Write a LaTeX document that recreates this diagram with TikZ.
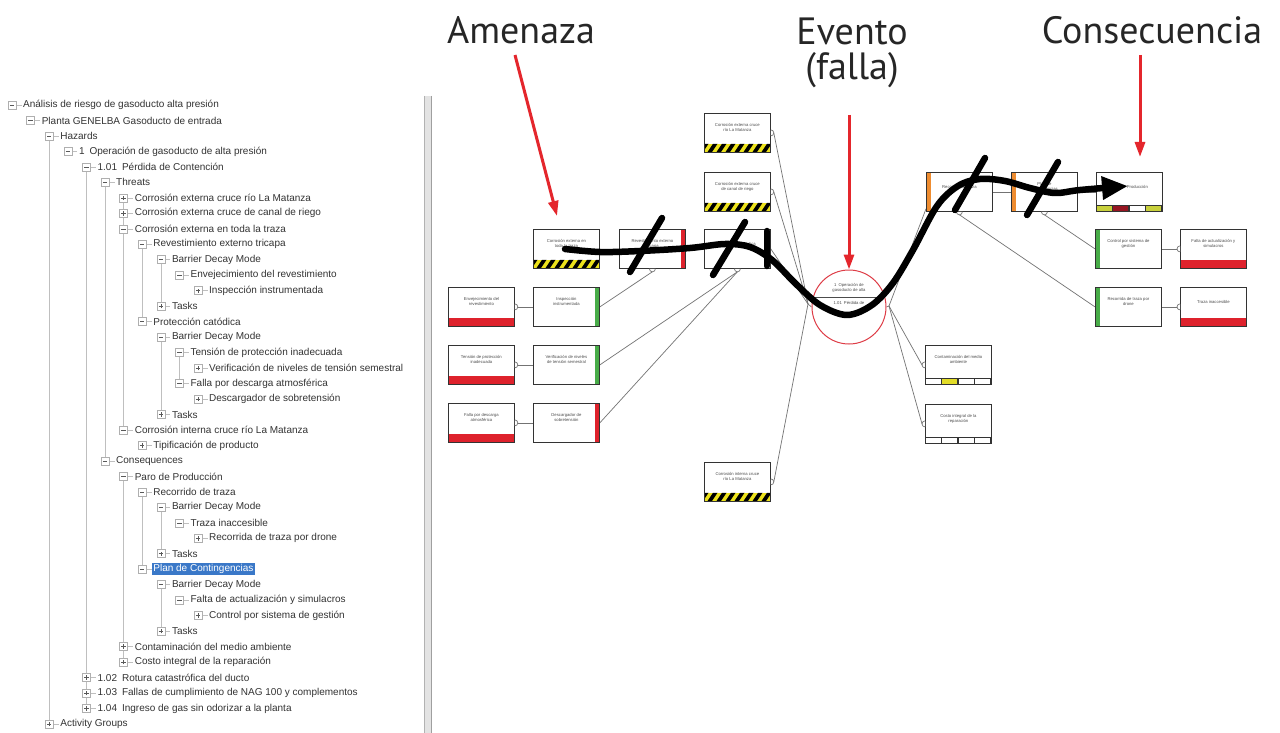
\documentclass[tikz,border=0pt]{standalone}
\usepackage{fontspec}
\setmainfont{Liberation Sans}
\newfontfamily\headfont{PT Sans}
\usetikzlibrary{arrows.meta}
\pgfdeclarelayer{background}
\pgfdeclarelayer{paper}
\pgfsetlayers{paper,background,main}

\definecolor{barred}{RGB}{222,34,44}
\definecolor{bargreen}{RGB}{72,172,72}
\definecolor{barorange}{RGB}{238,140,48}
\definecolor{hzyellow}{RGB}{236,226,28}
\definecolor{cellyg}{RGB}{200,208,60}
\definecolor{celldark}{RGB}{150,22,34}
\definecolor{cellyel}{RGB}{226,220,40}
\definecolor{evred}{RGB}{222,60,70}
\definecolor{arrred}{RGB}{228,38,44}
\definecolor{selblue}{RGB}{58,120,200}
\definecolor{treegray}{RGB}{175,175,175}

\tikzset{
  bx/.style={draw=black!80, line width=0.8pt, fill=white, minimum width=66pt,
    minimum height=39pt, inner sep=0pt, anchor=north west},
  bxline/.style={draw=black!80, line width=0.8pt},
  btxt/.style={font=\fontsize{4.2}{5}\selectfont, text=black!70, align=center, inner sep=0pt},
  conn/.style={draw=black!55, line width=0.7pt},
  inkline/.style={line width=6.5pt, black, line cap=round, line join=round},
  redarrow/.style={draw=arrred, line width=3pt, -{Triangle[length=15pt,width=10pt]}},
  head/.style={font=\headfont\fontsize{38}{35}\selectfont, text=black!85, inner sep=0pt, align=center},
  tbtn/.style={draw=treegray, fill=white, minimum size=8pt, inner sep=0pt, line width=0.6pt},
  tsign/.style={draw=black!65, line width=0.6pt},
  tline/.style={draw=treegray!80, line width=0.6pt},
  ttext/.style={font=\fontsize{10}{12}\selectfont, text=black!80, anchor=west, inner sep=1.5pt},
  sel/.style={fill=selblue, text=white},
}

% one row of the tree: [style]{row}{level}{p|m}{text}
\newcommand\trow[5][]{%
  \pgfmathsetmacro\ty{105+15.475*(#2-1)}%
  \pgfmathsetmacro\tx{12+18.6*#3}%
  \node[tbtn] (b#2) at (\tx,\ty) {};
  \draw[tsign] ([xshift=-2.2pt]b#2.center) -- ([xshift=2.2pt]b#2.center);
  \ifx p#4\draw[tsign] ([yshift=-2.2pt]b#2.center) -- ([yshift=2.2pt]b#2.center);\fi
  \node[ttext,#1] (r#2) at (\tx+9.5,\ty) {#5};
  \begin{pgfonlayer}{background}\draw[tline] (b#2.east) -- (r#2.west);\end{pgfonlayer}
}

% bow-tie box with its caption
\newcommand\bowbox[4]{%
  \node[bx] (#1) at (#2,#3) {};
  \node[btxt] (#1t) at ([yshift=5pt]#1.center) {#4};
}
\newcommand\hazardband[1]{%
  \begin{scope}
    \clip (#1.south west) rectangle ([yshift=9pt]#1.south east);
    \fill[hzyellow] (#1.south west) rectangle ([yshift=9pt]#1.south east);
    \foreach \k in {0,...,8}{
      \fill[black] ([xshift=\k*9pt-6pt]#1.south west) -- ++(4.5pt,0pt) -- ++(6pt,9pt) -- ++(-4.5pt,0pt) -- cycle;}
  \end{scope}
  \draw[bxline] (#1.south west) rectangle (#1.north east);
}
\newcommand\redbase[1]{%
  \fill[barred] (#1.south west) rectangle ([yshift=8.5pt]#1.south east);
  \draw[bxline] (#1.south west) rectangle (#1.north east);
}
\newcommand\rbar[2]{%
  \fill[#2] ([xshift=-5pt]#1.south east) rectangle (#1.north east);
  \draw[bxline] (#1.south west) rectangle (#1.north east);
}
\newcommand\lbar[2]{%
  \fill[#2] (#1.south west) rectangle ([xshift=4.5pt]#1.north west);
  \draw[bxline] (#1.south west) rectangle (#1.north east);
}
\newcommand\cells[5]{%
  \fill[black!80] (#1.south west) rectangle ([yshift=7pt]#1.south east);
  \foreach \c [count=\i from 0] in {#2,#3,#4,#5}{
    \fill[\c] ([xshift=1.2pt+\i*16.2pt, yshift=1pt]#1.south west) rectangle ++(15pt,5pt);}
  \draw[bxline] (#1.south west) rectangle (#1.north east);
}
\newcommand\bumpR[1]{\draw[conn,fill=white] ([yshift=3pt]#1) arc[start angle=90,end angle=-90,radius=3pt];}
\newcommand\bumpL[1]{\draw[conn,fill=white] ([yshift=3pt]#1) arc[start angle=90,end angle=270,radius=3pt];}
\newcommand\bumpB[1]{\draw[conn,fill=white] ([xshift=-3pt]#1) arc[start angle=180,end angle=360,radius=3pt];}

\begin{document}
\begin{tikzpicture}[x=1pt,y=-1pt]
\begin{pgfonlayer}{paper}
  \fill[white] (0,0) rectangle (1280,733);
\end{pgfonlayer}
\useasboundingbox (0,0) rectangle (1280,733);

% ---------- tree panel ----------
\trow{1}{0}{m}{Análisis de riesgo de gasoducto alta presión}
\trow{2}{1}{m}{Planta GENELBA Gasoducto de entrada}
\trow{3}{2}{m}{Hazards}
\trow{4}{3}{m}{1\enspace Operación de gasoducto de alta presión}
\trow{5}{4}{m}{1.01\enspace Pérdida de Contención}
\trow{6}{5}{m}{Threats}
\trow{7}{6}{p}{Corrosión externa cruce río La Matanza}
\trow{8}{6}{p}{Corrosión externa cruce de canal de riego}
\trow{9}{6}{m}{Corrosión externa en toda la traza}
\trow{10}{7}{m}{Revestimiento externo tricapa}
\trow{11}{8}{m}{Barrier Decay Mode}
\trow{12}{9}{m}{Envejecimiento del revestimiento}
\trow{13}{10}{p}{Inspección instrumentada}
\trow{14}{8}{p}{Tasks}
\trow{15}{7}{m}{Protección catódica}
\trow{16}{8}{m}{Barrier Decay Mode}
\trow{17}{9}{m}{Tensión de protección inadecuada}
\trow{18}{10}{p}{Verificación de niveles de tensión semestral}
\trow{19}{9}{m}{Falla por descarga atmosférica}
\trow{20}{10}{p}{Descargador de sobretensión}
\trow{21}{8}{p}{Tasks}
\trow{22}{6}{m}{Corrosión interna cruce río La Matanza}
\trow{23}{7}{p}{Tipificación de producto}
\trow{24}{5}{m}{Consequences}
\trow{25}{6}{m}{Paro de Producción}
\trow{26}{7}{m}{Recorrido de traza}
\trow{27}{8}{m}{Barrier Decay Mode}
\trow{28}{9}{m}{Traza inaccesible}
\trow{29}{10}{p}{Recorrida de traza por drone}
\trow{30}{8}{p}{Tasks}
\trow[sel]{31}{7}{m}{Plan de Contingencias}
\trow{32}{8}{m}{Barrier Decay Mode}
\trow{33}{9}{m}{Falta de actualización y simulacros}
\trow{34}{10}{p}{Control por sistema de gestión}
\trow{35}{8}{p}{Tasks}
\trow{36}{6}{p}{Contaminación del medio ambiente}
\trow{37}{6}{p}{Costo integral de la reparación}
\trow{38}{4}{p}{1.02\enspace Rotura catastrófica del ducto}
\trow{39}{4}{p}{1.03\enspace Fallas de cumplimiento de NAG 100 y complementos}
\trow{40}{4}{p}{1.04\enspace Ingreso de gas sin odorizar a la planta}
\trow{41}{2}{p}{Activity Groups}

\begin{pgfonlayer}{background}
  \foreach \a/\b in {3/41,5/40,6/24,7/22,25/37,10/15,26/31,11/14,16/21,27/30,32/35,17/19}
    \draw[tline] (b\a.center) -- (b\b.center);
\end{pgfonlayer}

% splitter between the panels
\fill[gray!22] (424,96) rectangle (431,733);
\draw[gray!60, line width=0.8pt] (424,96) -- (424,733);
\draw[gray!75, line width=0.8pt] (431,96) -- (431,733);

% ---------- headings ----------
\node[head, anchor=base] (amen) at (521,44) {Amenaza};
\node[head, anchor=north] (even) at (852,18) {Evento\\(falla)};
\node[head, anchor=base] (cons) at (1152,44) {Consecuencia};

% ---------- bow-tie ----------
\bowbox{th1}{704}{113}{Corrosión externa cruce\\río La Matanza}
\bowbox{th2}{704}{172}{Corrosión externa cruce\\de canal de riego}
\bowbox{th3}{533}{229}{Corrosión externa en\\toda la traza}
\bowbox{th4}{704}{462}{Corrosión interna cruce\\río La Matanza}
\bowbox{ba1}{619}{229}{Revestimiento externo\\tricapa}
\bowbox{ba2}{704}{229}{Protección catódica}
\bowbox{ef1}{448}{287}{Envejecimiento del\\revestimiento}
\bowbox{eb1}{533}{287}{Inspección\\instrumentada}
\bowbox{ef2}{448}{345}{Tensión de protección\\inadecuada}
\bowbox{eb2}{533}{345}{Verificación de niveles\\de tensión semestral}
\bowbox{ef3}{448}{403}{Falla por descarga\\atmosférica}
\bowbox{eb3}{533}{403}{Descargador de\\sobretensión}
\bowbox{cb1}{926}{172}{Recorrido de traza}
\bowbox{cb2}{1011}{172}{Plan de\\Contingencias}
\bowbox{cq1}{1096}{172}{Paro de Producción}
\bowbox{rb1}{1095}{229}{Control por sistema de\\gestión}
\bowbox{re1}{1180}{229}{Falta de actualización y\\simulacros}
\bowbox{rb2}{1095}{287}{Recorrida de traza por\\drone}
\bowbox{re2}{1180}{287}{Traza inaccesible}
\bowbox{cq2}{925}{345}{Contaminación del medio\\ambiente}
\bowbox{cq3}{925}{404}{Costo integral de la\\reparación}

\hazardband{th1}\hazardband{th2}\hazardband{th3}\hazardband{th4}
\rbar{ba1}{barred}\rbar{eb1}{bargreen}\rbar{eb2}{bargreen}\rbar{eb3}{barred}
\redbase{ef1}\redbase{ef2}\redbase{ef3}\redbase{re1}\redbase{re2}
\lbar{cb1}{barorange}\lbar{cb2}{barorange}\lbar{rb1}{bargreen}\lbar{rb2}{bargreen}
\cells{cq1}{cellyg}{celldark}{white}{cellyg}
\cells{cq2}{white}{cellyel}{white}{white}
\cells{cq3}{white}{white}{white}{white}

% top event
\node[draw=evred, line width=1pt, circle, minimum size=74pt, inner sep=0pt, fill=white] (ev) at (849,307) {};
\node[btxt] (evt) at (849,288) {1\enspace Operación de\\gasoducto de alta};
\draw[black!70, line width=0.5pt] (814,297) -- (884,297);
\node[btxt] (evs) at (849,303) {1.01\enspace Pérdida de};

\coordinate (lj) at (808,304);
\coordinate (rj) at (889,306);

\begin{pgfonlayer}{background}
  % threat side
  \draw[conn] (th3.east) -- (ba1.west);
  \draw[conn] (ba1.east) -- (ba2.west);
  \draw[conn] (ba2.east) -- (lj);
  \draw[conn] ([xshift=3pt]th1.east) -- (lj);
  \draw[conn] ([xshift=3pt]th2.east) -- (lj);
  \draw[conn] ([xshift=3pt]th4.east) -- (lj);
  \draw[conn] (lj) -- (ev.west);
  \draw[conn] ([xshift=3pt]ef1.east) -- (eb1.west);
  \draw[conn] ([xshift=3pt]ef2.east) -- (eb2.west);
  \draw[conn] ([xshift=3pt]ef3.east) -- (eb3.west);
  \draw[conn] (eb1.east) -- ([yshift=-3pt]ba1.south);
  \draw[conn] (eb2.east) -- ([yshift=-3pt]ba2.south);
  \draw[conn] (eb3.east) -- ([yshift=-3pt]ba2.south);
  % consequence side
  \draw[conn] (ev.east) -- (rj);
  \draw[conn] (rj) -- ([yshift=3pt]cb1.south west);
  \draw[conn] (cb1.east) -- (cb2.west);
  \draw[conn] (cb2.east) -- (cq1.west);
  \draw[conn] (rj) -- ([xshift=-3pt]cq2.west);
  \draw[conn] (rj) -- ([xshift=-3pt]cq3.west);
  \draw[conn] ([yshift=-3pt]cb1.south) -- (rb2.west);
  \draw[conn] ([yshift=-3pt]cb2.south) -- (rb1.west);
  \draw[conn] (rb1.east) -- ([xshift=-3pt]re1.west);
  \draw[conn] (rb2.east) -- ([xshift=-3pt]re2.west);
\end{pgfonlayer}

\bumpR{th1.east}\bumpR{th2.east}\bumpR{th4.east}
\bumpR{ef1.east}\bumpR{ef2.east}\bumpR{ef3.east}
\bumpB{ba1.south}\bumpB{ba2.south}\bumpB{cb1.south}\bumpB{cb2.south}
\bumpL{cq2.west}\bumpL{cq3.west}\bumpL{re1.west}\bumpL{re2.west}

% red pointers
\coordinate (pa) at (515,55);
\coordinate (pe) at (849,115);
\coordinate (pc) at (1140,55);
\coordinate (pct) at (1140,157);
\coordinate (pat) at (557,216);
\draw[redarrow] (pa) -- (pat);
\draw[redarrow] (pe) -- (ev.north);
\draw[redarrow] (pc) -- (pct);

% hand-drawn failure path and cancelled barriers
\draw[inkline, -{Triangle[length=26pt,width=22pt]}] plot[smooth, tension=0.55] coordinates {
  (565,249) (600,252) (640,251) (690,248) (725,244) (750,247) (772,260) (796,284)
  (820,305) (847,315) (872,305) (893,283) (913,250) (937,206) (958,186) (980,179)
  (1005,181) (1030,188) (1055,193) (1080,190) (1128,186)};
\draw[inkline] (767,231) -- (767,266);
\draw[inkline] (662,218) -- (630,272);
\draw[inkline] (745,222) -- (713,275);
\draw[inkline] (985,158) -- (955,210);
\draw[inkline] (1058,162) -- (1027,215);
\end{tikzpicture}
\end{document}
